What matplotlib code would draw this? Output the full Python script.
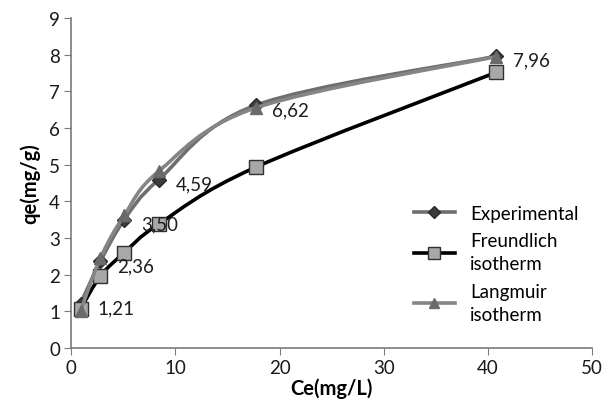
import matplotlib
matplotlib.use("Agg")
import matplotlib.pyplot as plt
import numpy as np
from matplotlib.path import Path
from matplotlib.patches import PathPatch
from matplotlib.lines import Line2D

plt.rcParams['font.family'] = ['Lato', 'DejaVu Sans']

ce = [0.9, 2.8, 5.1, 8.4, 17.7, 40.8]
q_exp = [1.21, 2.36, 3.50, 4.59, 6.62, 7.96]
q_freundlich = [1.06, 1.96, 2.60, 3.38, 4.93, 7.52]
q_langmuir = [1.00, 2.45, 3.62, 4.82, 6.55, 7.95]
labels = ["1,21", "2,36", "3,50", "4,59", "6,62", "7,96"]
series_names = ["Experimental", "Freundlich\nisotherm", "Langmuir\nisotherm"]


def smooth_path(x, y):
    pts = np.column_stack([x, y]).astype(float)
    n = len(pts)
    verts = [pts[0]]
    codes = [Path.MOVETO]
    for i in range(n - 1):
        p0 = pts[i - 1] if i > 0 else pts[i]
        p1 = pts[i]
        p2 = pts[i + 1]
        p3 = pts[i + 2] if i + 2 < n else pts[i + 1]
        c1 = p1 + (p2 - p0) / 6.0
        c2 = p2 - (p3 - p1) / 6.0
        verts += [c1, c2, p2]
        codes += [Path.CURVE4] * 3
    return Path(verts, codes)


fig = plt.figure(figsize=(6.08, 4.14), dpi=100)
ax = fig.add_axes([0.117, 0.157, 0.857, 0.797])

styles = [
    dict(data=q_exp, lc='#6e6e6e', marker='D', mfc='#3c3c3c', mec='#2a2a2a', ms=7),
    dict(data=q_freundlich, lc='#000000', marker='s', mfc='#a8a8a8', mec='#303030', ms=10),
    dict(data=q_langmuir, lc='#858585', marker='^', mfc='#6a6a6a', mec='#6a6a6a', ms=9),
]

handles = []
for k, st in enumerate(styles):
    p = smooth_path(ce, st['data'])
    ax.add_patch(PathPatch(p, facecolor='none', edgecolor=st['lc'], lw=2.6, zorder=2 + k))
    ax.plot(ce, st['data'], linestyle='none', marker=st['marker'], mfc=st['mfc'],
            mec=st['mec'], ms=st['ms'], mew=1.0, zorder=2.5 + k)
    handles.append(Line2D([], [], color=st['lc'], lw=2.6, marker=st['marker'],
                          mfc=st['mfc'], mec=st['mec'], ms=st['ms'] * 0.85, mew=1.0))

for xv, yv, lab in zip(ce, q_exp, labels):
    ax.annotate(lab, (xv, yv), xytext=(12, -3), textcoords='offset points',
                fontsize=13.5, color='#1e1e1e', ha='left', va='center', zorder=10)

ax.set_xlim(0, 50)
ax.set_ylim(0, 9)
ax.set_xticks(range(0, 51, 10))
ax.set_yticks(range(0, 10))
for s in ['top', 'right']:
    ax.spines[s].set_visible(False)
for s in ['left', 'bottom']:
    ax.spines[s].set_color('#7a7a7a')
    ax.spines[s].set_linewidth(1.2)
ax.tick_params(axis='both', direction='out', length=5, color='#7a7a7a',
               labelsize=13.5, labelcolor='#1a1a1a', pad=3)
ax.set_xlabel('Ce(mg/L)', fontsize=14.5, fontweight='bold', labelpad=1)
ax.set_ylabel('qe(mg/g)', fontsize=14.5, fontweight='bold', labelpad=6)

leg = ax.legend(handles, series_names, loc='center left', bbox_to_anchor=(0.625, 0.255),
                frameon=False, fontsize=13.5, handlelength=2.2, labelspacing=0.55,
                handletextpad=0.8)
for t in leg.get_texts():
    t.set_linespacing(1.45)

fig.savefig('out.png', dpi=100)
